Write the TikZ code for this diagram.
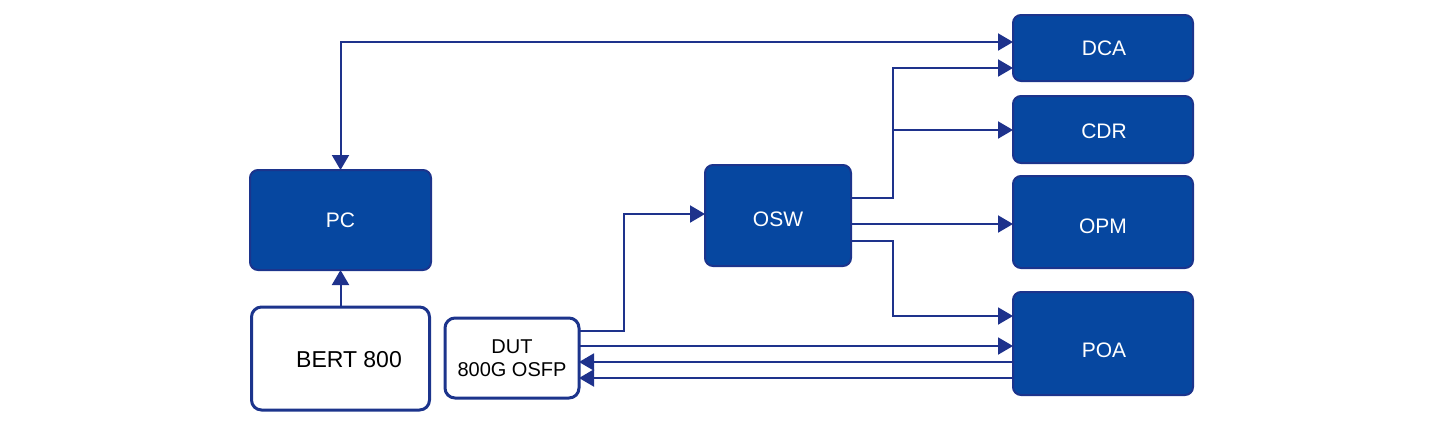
\documentclass[tikz,border=0pt]{standalone}
\usepackage{fontspec}
\setmainfont{Liberation Sans}
\usetikzlibrary{arrows.meta,calc}
\definecolor{boxfill}{RGB}{6,71,160}
\definecolor{boxline}{RGB}{28,52,140}
\definecolor{wire}{RGB}{30,50,140}
\begin{document}
\begin{tikzpicture}[x=0.5pt,y=-0.5pt,
  bluebox/.style={draw=boxline,fill=boxfill,line width=1pt,rounded corners=4pt,
    inner sep=0pt,outer sep=0pt},
  btext/.style={text=white,font=\fontsize{10.5}{12}\selectfont,inner sep=0pt},
  whitebox/.style={draw=boxline,fill=white,line width=1.5pt,rounded corners=5pt,
    text=black,font=\fontsize{10.5}{12}\selectfont,inner sep=0pt,outer sep=0pt,align=center},
  arr/.style={draw=wire,line width=1pt,-{Triangle[length=7.5pt,width=8.5pt]}},
  arrb/.style={draw=wire,line width=1pt,{Triangle[length=7.5pt,width=8.5pt]}-{Triangle[length=7.5pt,width=8.5pt]}}]
\useasboundingbox (0,0) rectangle (1450,425);
% boxes
\node[bluebox,minimum width=90.5pt,minimum height=50pt] (PC) at (340.5,220) {};
\node[btext] (PCt) at (340.5,220) {PC};
\node[whitebox,minimum width=89pt,minimum height=51.5pt] (BERT) at (340.5,358.5) {};
\node[font=\fontsize{11.5}{13}\selectfont,inner sep=0pt] (BERTt) at (349,360) {BERT 800};
\node[whitebox,minimum width=67pt,minimum height=40pt,font=\fontsize{10}{11.5}\selectfont] (DUT) at (512,358) {DUT\\800G OSFP};
\node[bluebox,minimum width=73pt,minimum height=50.5pt] (OSW) at (778,215.5) {};
\node[btext] (OSWt) at (778,219) {OSW};
\node[bluebox,minimum width=90pt,minimum height=33pt] (DCA) at (1103,48) {};
\node[btext] (DCAt) at (1104,48.5) {DCA};
\node[bluebox,minimum width=90pt,minimum height=33.5pt] (CDR) at (1103,129.5) {};
\node[btext] (CDRt) at (1104,131) {CDR};
\node[bluebox,minimum width=90pt,minimum height=46pt] (OPM) at (1103,222) {};
\node[btext] (OPMt) at (1103,226) {OPM};
\node[bluebox,minimum width=90pt,minimum height=51.5pt] (POA) at (1103,343.5) {};
\node[btext] (POAt) at (1104,350) {POA};
% connectors
\draw[arrb] (PC.north) |- (DCA.west |- 0,42);
\draw[arr] (BERT.north) -- (PC.south);
\draw[arr] (OSW.east |- 0,198) -- (893,198) |- (DCA.west |- 0,68);
\draw[arr] (893,130) -- (CDR.west |- 0,130);
\draw[arr] (OSW.east |- 0,224) -- (OPM.west |- 0,224);
\draw[arr] (OSW.east |- 0,241) -- (893,241) |- (POA.west |- 0,316);
\draw[arr] (DUT.east |- 0,331) -- (624,331) |- (OSW.west |- 0,214);
\draw[arr] (DUT.east |- 0,346) -- (POA.west |- 0,346);
\draw[arr] (POA.west |- 0,362) -- (DUT.east |- 0,362);
\draw[arr] (POA.west |- 0,378) -- (DUT.east |- 0,378);
\end{tikzpicture}
\end{document}
